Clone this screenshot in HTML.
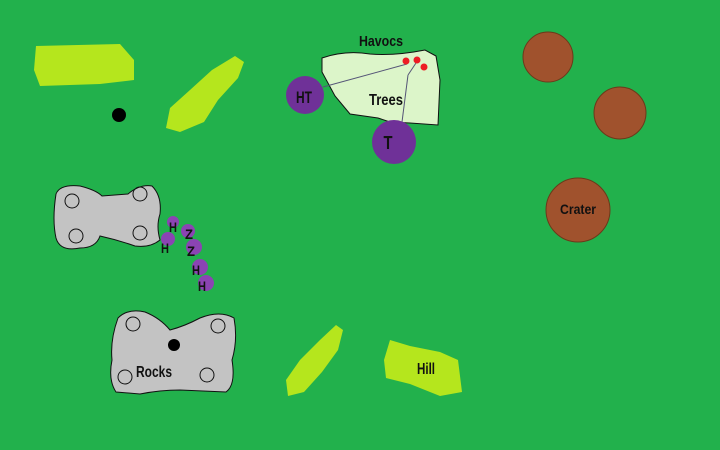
<!DOCTYPE html>
<html><head><meta charset="utf-8"><style>
html,body{margin:0;padding:0;width:720px;height:450px;overflow:hidden;background:#22b14c}
svg text{font-family:"Liberation Sans Narrow","Liberation Sans",sans-serif;font-weight:bold;fill:#111}
</style></head><body>
<svg width="720" height="450" viewBox="0 0 720 450" xmlns="http://www.w3.org/2000/svg">
<rect width="720" height="450" fill="#22b14c"/>
<path d="M36 46 L120 44 L134 60 L134 80 L100 84 L40 86 L34 70 Z" fill="#b5e61d"/>
<path d="M235 56 L244 62 L238 78 L218 100 L204 122 L180 132 L166 128 L170 108 L190 90 L212 70 Z" fill="#b5e61d"/>
<circle cx="119" cy="115" r="7" fill="#000"/>
<!-- trees -->
<path d="M322 58 Q345 50 370 54 Q395 56 425 50 L436 56 L440 80 L438 125 L410 123 L390 122 L378 118 L350 114 L335 96 L322 72 Z" fill="#dcf5c9" stroke="#111" stroke-width="1"/>
<text x="381" y="46" font-size="15" text-anchor="middle" textLength="44" lengthAdjust="spacingAndGlyphs">Havocs</text>
<text x="386" y="105" font-size="16" text-anchor="middle" textLength="34" lengthAdjust="spacingAndGlyphs">Trees</text>
<g stroke="#555577" stroke-width="1" fill="none">
<line x1="323" y1="87" x2="407" y2="64"/>
<line x1="416" y1="63" x2="408" y2="75"/>
<line x1="408" y1="75" x2="402" y2="122"/>
</g>
<circle cx="406" cy="61" r="3.5" fill="#ed1c24"/>
<circle cx="417" cy="60" r="3.5" fill="#ed1c24"/>
<circle cx="424" cy="67" r="3.5" fill="#ed1c24"/>
<circle cx="305" cy="95" r="19" fill="#6f3198"/>
<text x="304" y="103" font-size="17" text-anchor="middle" textLength="16" lengthAdjust="spacingAndGlyphs">HT</text>
<circle cx="394" cy="142" r="22" fill="#6f3198"/>
<text x="388" y="149" font-size="18" text-anchor="middle" textLength="9" lengthAdjust="spacingAndGlyphs">T</text>
<!-- craters -->
<circle cx="548" cy="57" r="25" fill="#a0522d" stroke="#6a3a1a"/>
<circle cx="620" cy="113" r="26" fill="#a0522d" stroke="#6a3a1a"/>
<circle cx="578" cy="210" r="32" fill="#a0522d" stroke="#6a3a1a"/>
<text x="578" y="214" font-size="14" text-anchor="middle" textLength="36" lengthAdjust="spacingAndGlyphs">Crater</text>
<!-- rocks top -->
<path d="M56 194 Q60 184 80 186 Q96 190 102 196 L128 194 Q140 184 152 186 Q162 196 160 214 Q156 226 160 240 Q150 248 135 246 Q118 240 100 236 Q96 248 80 248 Q60 252 56 238 Q52 220 56 194 Z" fill="#c3c3c3" stroke="#111"/>
<g fill="none" stroke="#111"><circle cx="72" cy="201" r="7"/><circle cx="140" cy="194" r="7"/><circle cx="76" cy="236" r="7"/><circle cx="140" cy="233" r="7"/></g>
<!-- rocks bottom -->
<path d="M118 318 Q128 308 145 312 Q160 318 170 330 Q185 326 200 318 Q220 310 234 318 Q238 340 232 360 Q236 385 226 392 L180 390 Q160 390 140 394 L116 392 Q108 380 112 360 Q110 340 118 318 Z" fill="#c3c3c3" stroke="#111"/>
<g fill="none" stroke="#111"><circle cx="133" cy="324" r="7"/><circle cx="218" cy="326" r="7"/><circle cx="125" cy="377" r="7"/><circle cx="207" cy="375" r="7"/></g>
<circle cx="174" cy="345" r="6" fill="#000"/>
<text x="154" y="377" font-size="16" text-anchor="middle" textLength="36" lengthAdjust="spacingAndGlyphs">Rocks</text>
<!-- units -->
<g fill="#8b44b3"><circle cx="173" cy="222" r="6"/><circle cx="168" cy="239" r="7"/><circle cx="188" cy="231" r="7"/><circle cx="194" cy="247" r="8"/><circle cx="200" cy="267" r="8"/><circle cx="206" cy="283" r="8"/></g>
<g font-size="14"><text x="169" y="232" textLength="8" lengthAdjust="spacingAndGlyphs">H</text><text x="161" y="253" textLength="8" lengthAdjust="spacingAndGlyphs">H</text><text x="185" y="239" textLength="8" lengthAdjust="spacingAndGlyphs">Z</text><text x="187" y="256" textLength="8" lengthAdjust="spacingAndGlyphs">Z</text><text x="192" y="275" textLength="8" lengthAdjust="spacingAndGlyphs">H</text><text x="198" y="291" textLength="8" lengthAdjust="spacingAndGlyphs">H</text></g>
<!-- bottom lime -->
<path d="M336 325 L343 330 L338 350 L322 372 L304 392 L288 396 L286 380 L300 360 L320 340 Z" fill="#b5e61d"/>
<path d="M390 340 L410 346 L440 352 L458 360 L462 392 L440 396 L410 384 L386 378 L384 360 Z" fill="#b5e61d"/>
<text x="426" y="374" font-size="16" text-anchor="middle" textLength="18" lengthAdjust="spacingAndGlyphs">Hill</text>
</svg>
</body></html>
